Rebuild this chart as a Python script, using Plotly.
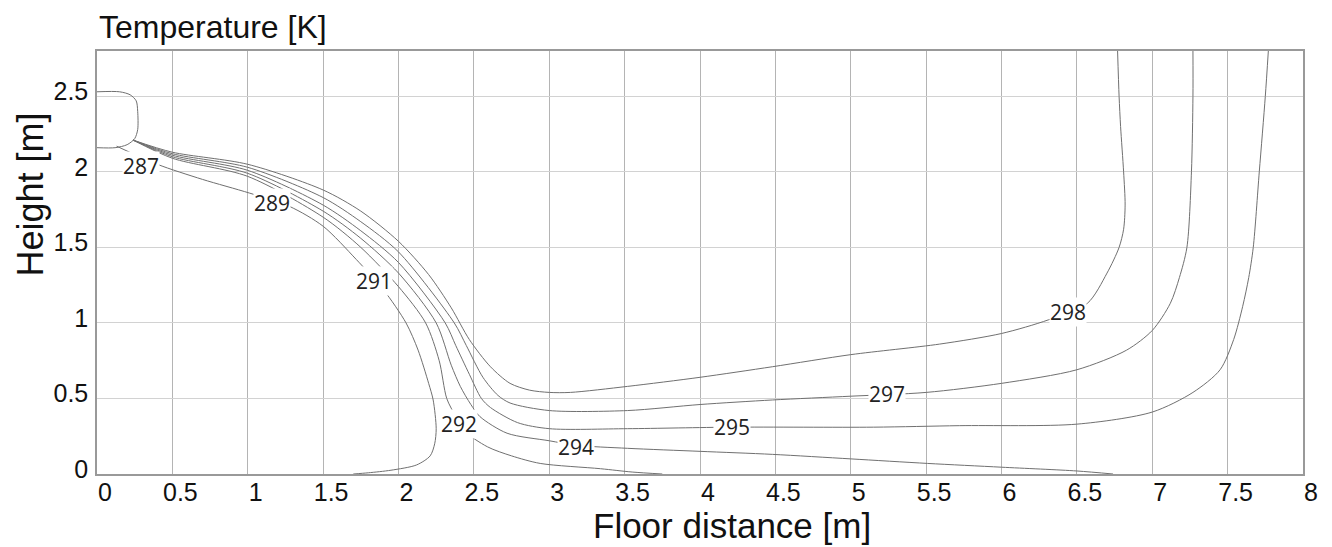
import plotly.graph_objects as go

# ---- contour lines (floor distance [m], height [m]) ----
x_287 = [0.0, 0.15, 0.22, 0.26, 0.27, 0.27, 0.25, 0.20, 0.12, 0.0]
y_287 = [2.53, 2.53, 2.51, 2.47, 2.40, 2.28, 2.22, 2.18, 2.16, 2.16]

x_291 = [0.13, 0.40, 0.70, 1.01, 1.28, 1.50, 1.72, 1.90, 2.05, 2.13, 2.20, 2.23, 2.25, 2.24, 2.21, 2.12, 1.95, 1.80, 1.70]
y_291 = [2.17, 2.05, 1.95, 1.86, 1.77, 1.64, 1.42, 1.22, 1.00, 0.82, 0.60, 0.49, 0.30, 0.20, 0.12, 0.06, 0.025, 0.008, 0.0]

x_292 = [0.24, 0.50, 1.00, 1.50, 1.75, 2.00, 2.18, 2.27, 2.32, 2.38, 2.43, 2.59, 2.75, 2.94, 3.34, 3.55, 3.75]
y_292 = [2.21, 2.09, 1.97, 1.70, 1.50, 1.24, 1.00, 0.75, 0.50, 0.38, 0.29, 0.18, 0.12, 0.07, 0.035, 0.013, 0.0]

x_294 = [0.24, 0.50, 1.00, 1.50, 1.75, 2.00, 2.25, 2.35, 2.41, 2.48, 2.54, 2.72, 3.00, 3.18, 3.52, 4.00, 4.48, 5.00, 5.51, 6.00, 6.50, 6.74]
y_294 = [2.21, 2.10, 1.99, 1.74, 1.56, 1.33, 1.00, 0.72, 0.58, 0.46, 0.38, 0.27, 0.22, 0.19, 0.17, 0.15, 0.13, 0.10, 0.07, 0.045, 0.02, 0.0]

x_295 = [0.24, 0.50, 1.00, 1.50, 1.75, 2.00, 2.31, 2.38, 2.47, 2.55, 2.61, 2.79, 3.00, 3.52, 4.21, 5.15, 5.72, 6.50, 7.00, 7.27, 7.45, 7.54, 7.60, 7.64, 7.67, 7.71, 7.75, 7.77]
y_295 = [2.21, 2.11, 2.01, 1.78, 1.61, 1.40, 1.00, 0.85, 0.66, 0.50, 0.44, 0.34, 0.30, 0.30, 0.31, 0.31, 0.32, 0.33, 0.41, 0.54, 0.69, 0.89, 1.11, 1.30, 1.50, 2.00, 2.50, 2.80]

x_297 = [0.24, 0.50, 1.00, 1.50, 1.75, 2.00, 2.37, 2.45, 2.56, 2.66, 2.74, 3.00, 3.52, 4.00, 4.48, 5.00, 5.50, 6.00, 6.50, 6.83, 7.00, 7.12, 7.18, 7.23, 7.26, 7.27, 7.27]
y_297 = [2.21, 2.12, 2.03, 1.83, 1.67, 1.47, 1.00, 0.85, 0.64, 0.52, 0.47, 0.42, 0.42, 0.46, 0.49, 0.515, 0.54, 0.60, 0.69, 0.82, 0.95, 1.13, 1.30, 1.50, 2.00, 2.50, 2.80]

x_298 = [0.24, 0.50, 1.00, 1.50, 1.75, 2.00, 2.20, 2.35, 2.47, 2.61, 2.74, 2.87, 3.00, 3.14, 3.52, 4.00, 4.48, 5.00, 5.59, 6.00, 6.31, 6.57, 6.70, 6.78, 6.81, 6.82, 6.81, 6.79, 6.78, 6.77]
y_298 = [2.21, 2.13, 2.05, 1.88, 1.74, 1.54, 1.32, 1.10, 0.89, 0.71, 0.60, 0.555, 0.54, 0.54, 0.58, 0.64, 0.71, 0.79, 0.86, 0.93, 1.02, 1.13, 1.33, 1.50, 1.62, 1.78, 2.00, 2.30, 2.50, 2.80]

# ---- contour labels ----
label_text = ["287", "289", "291", "292", "294", "295", "297", "298"]
label_x = [0.29, 1.16, 1.84, 2.40, 3.18, 4.21, 5.24, 6.44]
label_y = [2.04, 1.795, 1.28, 0.33, 0.18, 0.31, 0.53, 1.07]

# ---- axes ----
x_ticks = [i * 0.5 for i in range(17)]
x_tick_labels = ["0", "0.5", "1", "1.5", "2", "2.5", "3", "3.5", "4", "4.5", "5", "5.5", "6", "6.5", "7", "7.5", "8"]
y_ticks = [0, 0.5, 1, 1.5, 2, 2.5]
y_tick_labels = ["0", "0.5", "1", "1.5", "2", "2.5"]

lines = [(x_287, y_287), (x_291, y_291), (x_292, y_292), (x_294, y_294),
         (x_295, y_295), (x_297, y_297), (x_298, y_298)]

fig = go.Figure()
for xs, ys in lines:
    fig.add_trace(go.Scatter(x=xs, y=ys, mode="lines",
                             line=dict(color="#707070", width=1, shape="spline", smoothing=0.8),
                             hoverinfo="skip", showlegend=False))

for t, lx, ly in zip(label_text, label_x, label_y):
    fig.add_annotation(x=lx, y=ly, text=t, showarrow=False,
                       font=dict(family="Open Sans", size=21, color="#222"),
                       bgcolor="white", borderpad=0)

fig.add_annotation(xref="paper", yref="paper", x=0, y=1, xanchor="left", yanchor="middle",
                   yshift=24, text="Temperature [K]", showarrow=False,
                   font=dict(family="Liberation Sans", size=32, color="#111"))
fig.add_annotation(xref="paper", yref="paper", x=0.5, y=0, xanchor="center", yanchor="middle",
                   xshift=32, yshift=-51, text="Floor distance [m]", showarrow=False,
                   font=dict(family="Liberation Sans", size=35, color="#111"))
fig.add_annotation(xref="paper", yref="paper", x=0, y=0.5, xanchor="center", yanchor="middle",
                   xshift=-67, yshift=68, textangle=-90, text="Height [m]", showarrow=False,
                   font=dict(family="Liberation Sans", size=36, color="#111"))

fig.update_xaxes(range=[0, 8], tickvals=x_ticks, ticktext=x_tick_labels,
                 showgrid=True, gridcolor="#b4b4b4", gridwidth=1,
                 showline=True, linecolor="#999", linewidth=1.5, mirror=True,
                 ticks="", zeroline=False, ticklabelshift=8, ticklabelstandoff=-5,
                 tickfont=dict(family="Liberation Sans", size=25, color="#111"))
fig.update_yaxes(range=[0, 2.8], tickvals=y_ticks, ticktext=y_tick_labels,
                 showgrid=True, gridcolor="#d2d2d2", gridwidth=1,
                 showline=True, linecolor="#999", linewidth=1.5, mirror=True,
                 ticks="", zeroline=False, ticklabelshift=-5, ticklabelstandoff=2,
                 tickfont=dict(family="Liberation Sans", size=25, color="#111"))

fig.update_layout(width=1324, height=539, margin=dict(l=89, r=29, t=43, b=73),
                  plot_bgcolor="white", paper_bgcolor="white")

fig.write_html("out.html")
